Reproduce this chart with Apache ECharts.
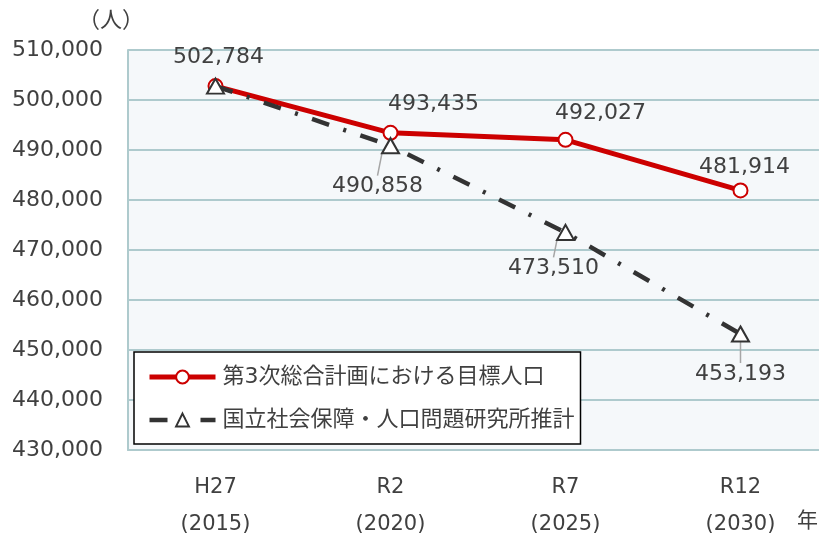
<!DOCTYPE html>
<html>
<head>
<meta charset="utf-8">
<style>
  html, body { margin: 0; padding: 0; background: #ffffff; }
  #chart { width: 819px; height: 535px; }
</style>
<script src="https://cdn.jsdelivr.net/npm/echarts@6/dist/echarts.min.js"></script>
</head>
<body>
<div id="chart"></div>
<script>
// Population: municipal plan target vs. national institute projection
const categories = ['H27\n(2015)', 'R2\n(2020)', 'R7\n(2025)', 'R12\n(2030)'];
const targetPopulation = [502784, 493435, 492027, 481914];
const projectedPopulation = [502784, 490858, 473510, 453193];
const seriesNames = ['第3次総合計画における目標人口', '国立社会保障・人口問題研究所推計'];
const yMin = 430000;
const yMax = 510000;
const yStep = 10000;

const FONT = '"DejaVu Sans", "Noto Sans CJK JP", sans-serif';
const TEXT = '#404040';
const GRID_LINE = '#aecacd';
const RED = '#cc0000';
const DARK = '#333333';
const DASH_DOT = [18, 15, 3, 15];

const fmt = v => Number(v).toLocaleString('en-US');

// label offsets (px) from each point, per series
const targetLabelShift = [[3, -29], [43, -29], [35, -27], [4, -23]];
const projectedLabelShift = [[0, 0], [-13, 41], [-12, 36], [0, 40]];

const chart = echarts.init(document.getElementById('chart'), null, { renderer: 'canvas' });

chart.setOption({
  animation: false,
  textStyle: { fontFamily: FONT, color: TEXT },
  grid: {
    left: 128, top: 50, bottom: 85, width: 700,
    show: true, backgroundColor: '#f5f8fa', borderWidth: 0,
    containLabel: false,
    outerBoundsMode: 'none'
  },
  legend: {
    orient: 'vertical',
    left: 134, top: 352,
    padding: [14, 6, 13, 13],
    itemGap: 21,
    itemWidth: 66, itemHeight: 16,
    backgroundColor: '#ffffff',
    borderColor: '#000000', borderWidth: 1.5, borderRadius: 0,
    textStyle: { fontFamily: FONT, fontSize: 22, color: TEXT, lineHeight: 22, padding: [0, 0, 0, 2] },
    data: [
      { name: seriesNames[0], lineStyle: { color: RED, width: 5 } },
      { name: seriesNames[1], lineStyle: { color: DARK, width: 4.5, type: DASH_DOT, cap: 'butt' } }
    ]
  },
  xAxis: {
    type: 'category',
    data: categories,
    boundaryGap: true,
    axisLine: { lineStyle: { color: GRID_LINE, width: 2 } },
    axisTick: { show: false },
    axisLabel: { fontFamily: FONT, fontSize: 21, color: TEXT, lineHeight: 37, margin: 19 }
  },
  yAxis: {
    type: 'value',
    min: yMin, max: yMax, interval: yStep,
    axisLine: { show: true, lineStyle: { color: GRID_LINE, width: 2 } },
    axisTick: { show: false },
    splitLine: { lineStyle: { color: GRID_LINE, width: 2 } },
    axisLabel: { fontFamily: FONT, fontSize: 22, color: TEXT, margin: 25, formatter: v => fmt(v) }
  },
  graphic: [
    { type: 'text', left: 78, top: 10, style: { text: '（人）', font: '22px ' + FONT, fill: TEXT } },
    { type: 'text', left: 797, top: 511, style: { text: '年', font: '21px ' + FONT, fill: TEXT } }
  ],
  series: [
    {
      name: seriesNames[0],
      type: 'line',
      data: targetPopulation,
      symbol: 'circle', symbolSize: 14,
      lineStyle: { color: RED, width: 5 },
      itemStyle: { color: '#ffffff', borderColor: RED, borderWidth: 2 },
      label: {
        show: true, position: 'inside',
        fontFamily: FONT, fontSize: 22, color: TEXT,
        formatter: p => fmt(p.value)
      },
      labelLayout: p => ({ dx: targetLabelShift[p.dataIndex][0], dy: targetLabelShift[p.dataIndex][1] }),
      z: 2
    },
    {
      name: seriesNames[1],
      type: 'line',
      data: projectedPopulation.map((v, i) => i === 0 ? { value: v, label: { show: false } } : v),
      symbol: 'triangle', symbolSize: [17, 15],
      lineStyle: { color: DARK, width: 4.5, type: DASH_DOT, cap: 'butt' },
      itemStyle: { color: '#ffffff', borderColor: DARK, borderWidth: 2 },
      label: {
        show: true, position: 'inside',
        fontFamily: FONT, fontSize: 22, color: TEXT,
        formatter: p => fmt(p.value)
      },
      labelLayout: p => ({ dx: projectedLabelShift[p.dataIndex][0], dy: projectedLabelShift[p.dataIndex][1] }),
      labelLine: { show: true, lineStyle: { color: '#a6a6a6', width: 1.5 } },
      z: 3
    }
  ]
});
</script>
</body>
</html>
